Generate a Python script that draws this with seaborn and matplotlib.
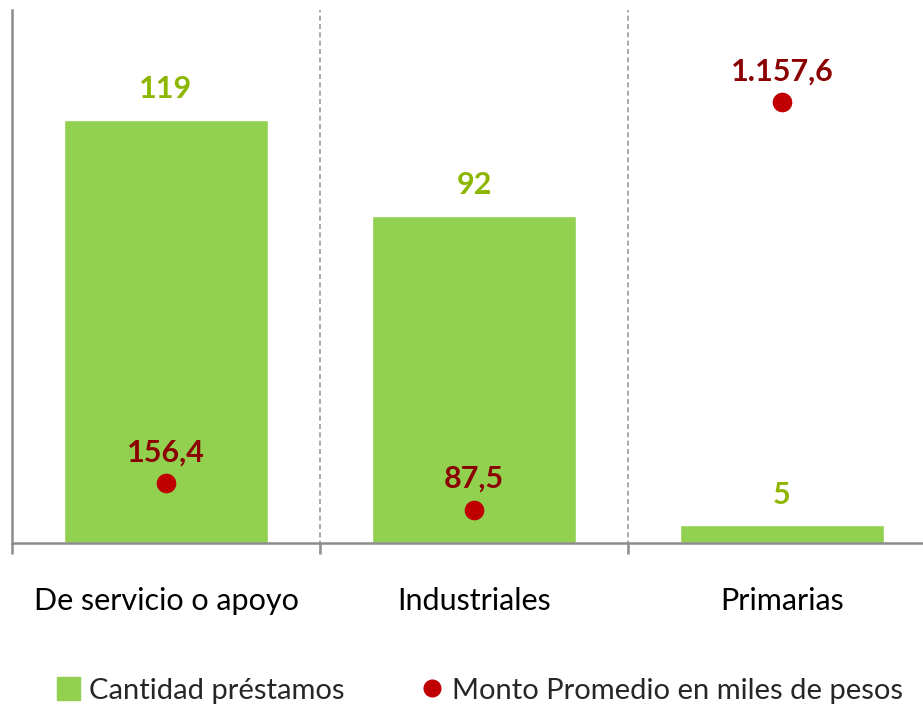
import numpy as np
import pandas as pd
import seaborn as sns
import matplotlib.pyplot as plt
from matplotlib.lines import Line2D
from matplotlib.patches import Patch

categorias = ["De servicio o apoyo", "Industriales", "Primarias"]
cantidad = [119, 92, 5]
monto = [156.4, 87.5, 1157.6]
monto_txt = ["156,4", "87,5", "1.157,6"]

verde = "#92D050"
verde_txt = "#8DB600"
rojo = "#C00000"
rojo_txt = "#8B0000"
gris = "#8C8C8C"

sns.set_style("white")
plt.rcParams["font.family"] = ["Lato", "DejaVu Sans"]

df = pd.DataFrame({"cat": categorias, "cantidad": cantidad, "monto": monto})

fig = plt.figure(figsize=(9.23, 7.06), dpi=100)
ax = fig.add_axes([12 / 923, 163 / 706, 924 / 923, 533 / 706])

sns.barplot(data=df, x="cat", y="cantidad", color=verde, width=0.66,
            saturation=1, ax=ax, zorder=2)
ax.set_ylim(0, 150)
ax.set_xlim(-0.5, 2.5)

ax2 = ax.twinx()
sns.scatterplot(x=np.arange(len(categorias)), y=df["monto"], color=rojo,
                s=200, edgecolor=rojo, linewidth=0, ax=ax2, zorder=3)
ax2.set_ylim(0, 1400)
ax2.set_xlim(-0.5, 2.5)
ax2.axis("off")

for i, v in enumerate(cantidad):
    ax.annotate(str(v), (i, v), xytext=(0, 12), textcoords="offset points",
                ha="center", va="bottom", fontsize=22, fontweight="bold",
                color=verde_txt)
for i, v in enumerate(monto):
    ax2.annotate(monto_txt[i], (i, v), xytext=(0, 12), textcoords="offset points",
                 ha="center", va="bottom", fontsize=22, fontweight="bold",
                 color=rojo_txt)

for xv in [0.5, 1.5]:
    ax.axvline(xv, ymin=-0.02, ymax=1, color="#999999", lw=1.2,
               ls=(0, (3, 2)), clip_on=False, zorder=1)

for s in ["top", "right"]:
    ax.spines[s].set_visible(False)
ax.spines["left"].set_color(gris)
ax.spines["left"].set_linewidth(1.8)
ax.spines["bottom"].set_color(gris)
ax.spines["bottom"].set_linewidth(1.8)

ax.set_yticks([])
ax.set_ylabel("")
ax.set_xlabel("")
ax.set_xticks(range(3))
ax.set_xticklabels(categorias, fontsize=22, color="black")
ax.tick_params(axis="x", which="major", length=0, pad=32)
ax.set_xticks([-0.5, 0.5, 1.5, 2.5], minor=True)
ax.tick_params(axis="x", which="minor", length=8, width=1.8, color=gris,
               direction="out", bottom=True)

handles = [Patch(facecolor=verde, edgecolor=verde),
           Line2D([], [], marker="o", ls="", color=rojo, markersize=12)]
fig.legend(handles, ["Cantidad préstamos", "Monto Promedio en miles de pesos"],
           loc="lower center", bbox_to_anchor=(0.52, -0.034), ncol=2,
           frameon=False, fontsize=21, columnspacing=2.6, handletextpad=0.3,
           handlelength=0.8, handleheight=0.8)

fig.savefig("out.png", dpi=100)
